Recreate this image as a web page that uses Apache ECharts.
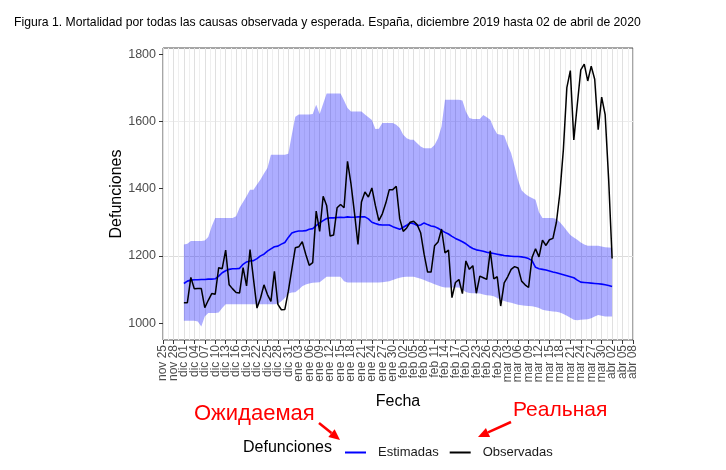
<!DOCTYPE html>
<html>
<head>
<meta charset="utf-8">
<script src="https://cdn.jsdelivr.net/npm/echarts@6/dist/echarts.min.js"></script>
<style>
  html, body { margin: 0; padding: 0; background: #fff; }
  #chart { width: 726px; height: 470px; }
</style>
</head>
<body>
<div id="chart"></div>
<script>
// dias contados desde el 25 de noviembre de 2019; el primer dato es el 1 de diciembre
const startDay = 6
const lastDay = 135
const tickStep = 3
const monthNames = ['ene', 'feb', 'mar', 'abr', 'may', 'jun', 'jul', 'ago', 'sep', 'oct', 'nov', 'dic']
const yLabels = [1000, 1200, 1400, 1600, 1800]

// limite superior del intervalo
const upper = [
  1234, 1236, 1244, 1244, 1244, 1244, 1246, 1256, 1288, 1313,
  1313, 1313, 1313, 1313, 1313, 1318, 1343, 1360, 1377, 1397,
  1397, 1412, 1427, 1445, 1461, 1501, 1501, 1501, 1501, 1501,
  1504, 1560, 1614, 1620, 1620, 1620, 1620, 1622, 1649, 1622,
  1652, 1683, 1683, 1683, 1683, 1683, 1662, 1640, 1629, 1629,
  1629, 1629, 1620, 1612, 1604, 1577, 1578, 1595, 1595, 1595,
  1595, 1590, 1580, 1560, 1550, 1545, 1545, 1535, 1525, 1520,
  1520, 1520, 1530, 1550, 1585, 1664, 1664, 1664, 1664, 1664,
  1662, 1629, 1610, 1607, 1607, 1607, 1619, 1612, 1605, 1580,
  1562, 1560, 1558, 1530, 1505, 1466, 1425, 1395, 1385, 1377,
  1372, 1367, 1330, 1313, 1313, 1313, 1313, 1310, 1300, 1288,
  1275, 1262, 1255, 1248, 1240, 1234, 1230, 1230, 1230, 1230,
  1228, 1226, 1225, 1224
]
// limite inferior del intervalo
const lower = [
  1007, 1007, 1007, 1007, 1005, 990, 1020, 1030, 1030, 1030,
  1032, 1045, 1056, 1056, 1056, 1056, 1056, 1056, 1056, 1056,
  1056, 1056, 1056, 1056, 1056, 1056, 1056, 1058, 1065, 1075,
  1088, 1091, 1092, 1100, 1110, 1115, 1118, 1120, 1121, 1122,
  1130, 1138, 1138, 1138, 1138, 1138, 1125, 1121, 1121, 1121,
  1121, 1121, 1121, 1121, 1121, 1121, 1121, 1122, 1123, 1125,
  1128, 1132, 1135, 1137, 1138, 1138, 1138, 1135, 1132, 1128,
  1124, 1120, 1116, 1112, 1108, 1106, 1106, 1106, 1106, 1106,
  1100, 1093, 1090, 1089, 1089, 1088, 1085, 1083, 1082, 1080,
  1075, 1070, 1066, 1063, 1061, 1058, 1055, 1053, 1052, 1051,
  1050, 1048, 1045, 1040, 1038, 1036, 1035, 1034, 1032, 1027,
  1022, 1016, 1010, 1009, 1010, 1011, 1012, 1015, 1020, 1024,
  1022, 1020, 1020, 1020
]
// defunciones estimadas
const estimadas = [
  1118, 1125, 1128, 1129, 1129, 1130, 1130, 1131, 1131, 1132,
  1140, 1150, 1156, 1160, 1162, 1162, 1163, 1175, 1182, 1185,
  1186, 1192, 1200, 1205, 1214, 1221, 1227, 1229, 1235, 1240,
  1255, 1268, 1272, 1274, 1274, 1275, 1279, 1281, 1290, 1298,
  1305, 1311, 1313, 1313, 1314, 1315, 1314, 1316, 1315, 1315,
  1316, 1316, 1316, 1310, 1300, 1296, 1293, 1292, 1292, 1292,
  1287, 1283, 1279, 1285, 1291, 1298, 1296, 1290, 1292, 1298,
  1293, 1289, 1287, 1282, 1276, 1270, 1265, 1258, 1252, 1247,
  1242, 1236, 1228, 1222, 1218, 1216, 1214, 1211, 1209, 1207,
  1205, 1203, 1201, 1200, 1199, 1198, 1198, 1197, 1195, 1192,
  1186, 1166, 1162, 1160, 1158, 1155, 1152, 1150, 1147, 1144,
  1141, 1138, 1135, 1128, 1122, 1121, 1120, 1119, 1118, 1117,
  1116, 1114, 1112, 1109
]
// defunciones observadas
const observadas = [
  1061, 1061, 1136, 1102, 1103, 1103, 1046, 1068, 1088, 1086,
  1165, 1162, 1217, 1114, 1102, 1091, 1090, 1165, 1111, 1219,
  1130, 1045, 1074, 1114, 1085, 1065, 1154, 1056, 1040, 1041,
  1095, 1160, 1224, 1227, 1242, 1205, 1172, 1180, 1333, 1273,
  1377, 1350, 1259, 1262, 1343, 1353, 1343, 1481, 1414, 1328,
  1234, 1360, 1390, 1375, 1402, 1350, 1305, 1325, 1357, 1397,
  1397, 1407, 1310, 1273, 1283, 1300, 1303, 1293, 1269, 1205,
  1152, 1152, 1230, 1241, 1280, 1209, 1217, 1076, 1121, 1130,
  1088, 1185, 1160, 1171, 1089, 1140, 1135, 1130, 1215, 1132,
  1138, 1051, 1120, 1138, 1160, 1168, 1164, 1125, 1114, 1106,
  1195, 1221, 1197, 1247, 1231, 1248, 1252, 1300, 1387, 1516,
  1700, 1751, 1545, 1650, 1753, 1770, 1720, 1764, 1725, 1575,
  1672, 1620, 1429, 1192
]

function dayLabel(d) {
  const t = new Date(2019, 10, 25 + Math.round(d))
  return monthNames[t.getMonth()] + ' ' + String(t.getDate()).padStart(2, '0')
}
// etiquetas del eje x: una cada 3 dias, de nov 25 a abr 08
const xTickLabels = []
for (let d = 0; d <= lastDay; d += tickStep) xTickLabels.push(dayLabel(d))

const toPairs = arr => arr.map((v, i) => [startDay + i, v])

//flecha roja: linea + punta
function arrow(x1, y1, x2, y2) {
  const ang = Math.atan2(y2 - y1, x2 - x1)
  const len = 11, half = 5
  const bx = x2 - len * Math.cos(ang), by = y2 - len * Math.sin(ang)
  const px = -Math.sin(ang) * half, py = Math.cos(ang) * half
  return [
    { type: 'line', shape: { x1, y1, x2: bx, y2: by }, style: { stroke: '#ff0000', lineWidth: 2.5 } },
    { type: 'polygon', shape: { points: [[x2, y2], [bx + px, by + py], [bx - px, by - py]] }, style: { fill: '#ff0000' } }
  ]
}

const myChart = echarts.init(document.getElementById('chart'))
const option = {
  animation: false,
  backgroundColor: '#fff',
  title: {
    text: 'Figura 1. Mortalidad por todas las causas observada y esperada. España, diciembre 2019 hasta 02 de abril de 2020',
    left: 9,
    top: 12,
    textStyle: { fontFamily: 'Liberation Sans', fontSize: 12.2, fontWeight: 'normal', color: '#000' }
  },
  grid: {
    left: 163, top: 48, width: 470, height: 292,
    show: true, borderColor: '#4d4d4d', borderWidth: 1, backgroundColor: '#fff'
  },
  legend: {
    data: ['Estimadas', 'Observadas'],
    left: 340,
    top: 441,
    icon: 'rect',
    itemWidth: 21,
    itemHeight: 2,
    itemGap: 11,
    textStyle: { fontFamily: 'Liberation Sans', fontSize: 13, color: '#1a1a1a', padding: [0, 0, 0, 7] }
  },
  xAxis: [
    {
      //eje de valores (dias): escala de los datos y lineas de la rejilla
      type: 'value',
      min: 0,
      max: lastDay,
      interval: tickStep,
      axisLine: { show: false, onZero: false },
      axisTick: { show: false },
      axisLabel: { show: false },
      splitLine: { show: true, lineStyle: { color: '#e0e0e0', width: 1 } },
      minorTick: { show: false, splitNumber: 2 },
      minorSplitLine: { show: true, lineStyle: { color: '#efefef', width: 1 } }
    },
    {
      //eje de etiquetas: mismas posiciones cada 3 dias
      type: 'category',
      position: 'bottom',
      data: xTickLabels,
      boundaryGap: false,
      name: 'Fecha',
      nameLocation: 'middle',
      nameGap: 54,
      nameMoveOverlap: false,
      nameTextStyle: { fontFamily: 'Liberation Sans', fontSize: 16, color: '#000' },
      axisLine: { show: false, onZero: false },
      axisTick: { show: true, interval: 0, length: 4, lineStyle: { color: '#333' } },
      axisLabel: {
        interval: 0, rotate: 90, margin: 5, fontSize: 12, color: '#4d4d4d', fontFamily: 'Liberation Sans'
      },
      splitLine: { show: false }
    }
  ],
  yAxis: {
    type: 'value',
    min: 950,
    max: 1818,
    interval: 50,
    name: 'Defunciones',
    nameLocation: 'middle',
    nameGap: 38,
    nameMoveOverlap: false,
    nameTextStyle: { fontFamily: 'Liberation Sans', fontSize: 16, color: '#000' },
    axisLine: { show: false, onZero: false },
    axisTick: { show: true, length: 4, customValues: yLabels, lineStyle: { color: '#333' } },
    axisLabel: {
      customValues: yLabels, margin: 7, fontSize: 12.5, color: '#4d4d4d', fontFamily: 'Liberation Sans',
      formatter: v => (yLabels.indexOf(v) >= 0 ? String(v) : '')
    },
    //lineas mayores cada 200, menores en medio
    splitLine: { show: true, lineStyle: { color: ['rgba(0,0,0,0)', '#dcdcdc', 'rgba(0,0,0,0)', '#ececec'], width: 1 } }
  },
  series: [
    {
      name: 'Estimadas',
      type: 'line',
      xAxisIndex: 0,
      data: toPairs(estimadas),
      symbol: 'none',
      color: '#0000ff',
      lineStyle: { color: '#0000ff', width: 1.6 }
    },
    {
      name: 'Observadas',
      type: 'line',
      xAxisIndex: 0,
      data: toPairs(observadas),
      symbol: 'none',
      color: '#000000',
      lineStyle: { color: '#000000', width: 1.5 }
    },
    //banda entre limite inferior y superior, encima de las lineas
    {
      name: 'banda',
      type: 'custom',
      xAxisIndex: 0,
      z: 3,
      silent: true,
      data: [[startDay, upper[0]]],
      renderItem: (params, api) => {
        const top = upper.map((v, i) => api.coord([startDay + i, v]))
        const bottom = lower.map((v, i) => api.coord([startDay + i, v])).reverse()
        return {
          type: 'polygon',
          shape: { points: top.concat(bottom) },
          style: { fill: 'rgba(0,0,255,0.32)' }
        }
      }
    }
  ],
  graphic: [
    {
      type: 'text', left: 243, top: 440,
      style: { text: 'Defunciones', fontFamily: 'Liberation Sans', fontSize: 16, fill: '#000' }
    },
    {
      type: 'text', left: 194, top: 403,
      style: { text: 'Ожидаемая', fontFamily: 'Liberation Sans', fontSize: 22, fill: '#ff0000' }
    },
    {
      type: 'text', left: 513, top: 400,
      style: { text: 'Реальная', fontFamily: 'Liberation Sans', fontSize: 21, fill: '#ff0000' }
    },
    ...arrow(319, 423, 340, 440),
    ...arrow(511, 422, 478, 437)
  ]
}
myChart.setOption(option)
</script>
</body>
</html>
